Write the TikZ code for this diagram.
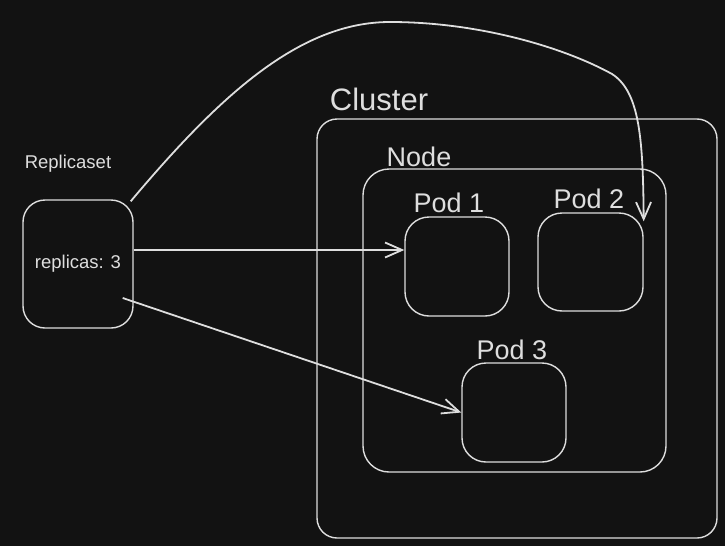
\documentclass[tikz,border=0pt]{standalone}
\usepackage{fontspec}
\setmainfont{Liberation Sans}
\usetikzlibrary{arrows.meta, positioning}
\definecolor{canvas}{HTML}{121212}
\definecolor{ink}{HTML}{DEDEDE}
\tikzset{>={Straight Barb[length=17pt,width=15pt]}}

\begin{document}
\begin{tikzpicture}[x=1pt,y=-1pt, line width=1.4pt,
	box/.style={draw=ink, rounded corners=#1, inner sep=0pt}, box/.default=24pt,
	lbl/.style={text=ink, font=\fontsize{27}{30}\selectfont, anchor=base, inner sep=0pt},
	small/.style={text=ink, font=\fontsize{18.5}{21}\selectfont},
	link/.style={->, draw=ink, line width=1.8pt}]
	\fill[canvas] (0,0) rectangle (725,546);
	\useasboundingbox (0,0) rectangle (725,546);
	% boxes
	\node[box=20pt, minimum width=400pt, minimum height=419pt] (cluster) at (517,328.5) {};
	\node[box=26pt, minimum width=303pt, minimum height=303pt] (knode) at (514.5,320.5) {};
	\node[box, minimum width=104pt, minimum height=99pt] (pod1) at (457,266.5) {};
	\node[box, minimum width=105pt, minimum height=98pt] (pod2) at (590.5,262) {};
	\node[box, minimum width=104pt, minimum height=99pt] (pod3) at (514,412.5) {};
	\node[box=22pt, small, minimum width=110pt, minimum height=128pt] (rs) at (78,264) {replicas: 3};
	% labels
	\node[small, anchor=base, inner sep=0pt] at (68,168) {Replicaset};
	\node[lbl, font=\fontsize{31}{34}\selectfont] at (379,110) {Cluster};
	\node[lbl] at (419,166) {Node};
	\node[lbl] at (449,212) {Pod 1};
	\node[lbl] at (589,208) {Pod 2};
	\node[lbl] at (512,359) {Pod 3};
	% arrows
	\draw[link] ([yshift=14pt]rs.east) -- ([yshift=16.5pt]pod1.west);
	\draw[link] ([shift={(-11pt,-34pt)}]rs.east) -- (pod3.west);
	\draw[link] ([shift={(-3pt,-2pt)}]rs.north east) .. controls (220,95) and (300,22) .. (390,22)
		.. controls (480,22) and (565,48) .. (612,74)
		.. controls (640,92) and (643,140) .. ([yshift=-9pt]pod2.north east);
\end{tikzpicture}
\end{document}
